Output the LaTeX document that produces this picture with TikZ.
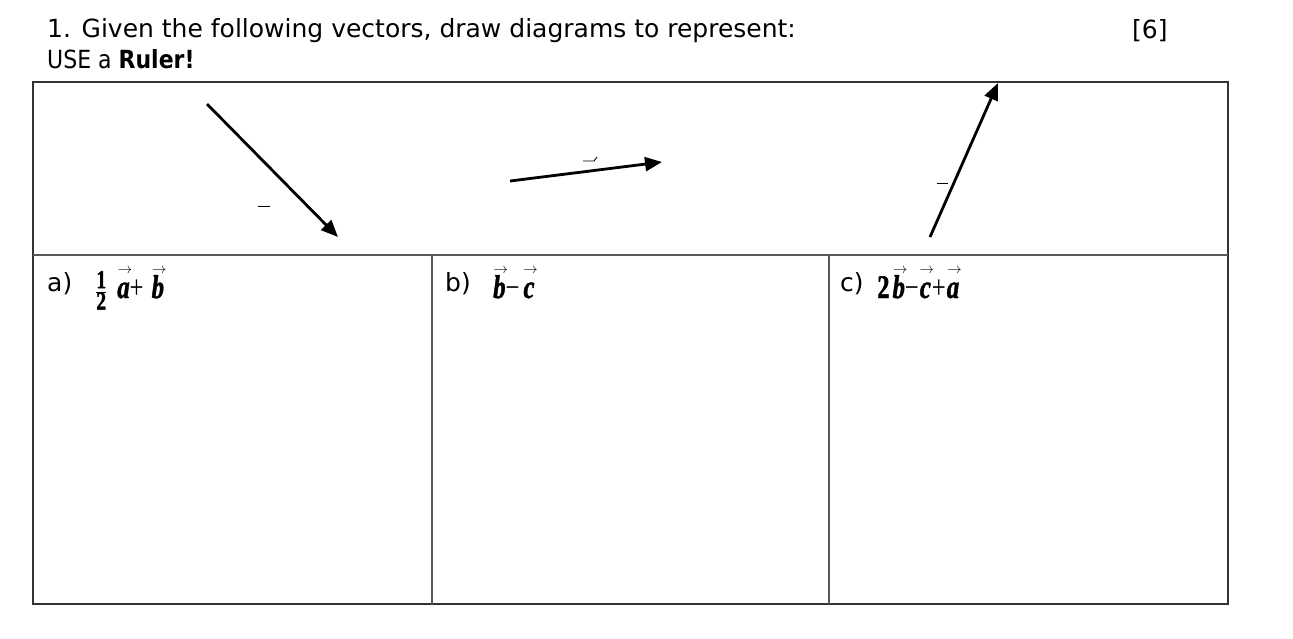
\documentclass[tikz,border=0pt]{standalone}
\usepackage{fontspec}
\usepackage{graphicx}
\setmainfont{DejaVu Sans}
\newfontfamily\tmsr[FakeStretch=0.75]{Liberation Serif}
\newfontfamily\tmsb[FakeStretch=0.75,FakeBold=1.2]{Liberation Serif Bold}
\newfontfamily\tmsbi[FakeStretch=0.75,FakeBold=1.2]{Liberation Serif Bold Italic}
\usetikzlibrary{arrows.meta}
\newcommand\arrowglyph{{\fontsize{15}{15}\selectfont$\rightarrow$}}
\newcommand\vv[1]{{\setbox0\hbox{\tmsbi #1}\hbox to \wd0{\hss\kern3pt\raisebox{25pt}[0pt][0pt]{\arrowglyph}\hss}\kern-\wd0\box0}}
\newcommand\bd[1]{{\tmsb #1}}
\newcommand\sm[1]{\hbox{\fontsize{26}{26}\selectfont\tmsb #1}}
\tikzset{
  frame/.style={draw=black!80, line width=1.6pt},
  sep/.style={draw=black!65, line width=1.6pt},
  vecline/.style={line width=2.8pt, -{Triangle[length=17pt,width=14pt]}},
  tick/.style={line width=0.9pt},
  txt/.style={anchor=base west, inner sep=0pt, font=\fontsize{25}{28}\selectfont},
  mth/.style={anchor=base west, inner sep=0pt, font=\fontsize{33}{35}\selectfont\tmsr}
}
\begin{document}
\begin{tikzpicture}[x=1pt,y=-1pt]
\useasboundingbox (0,0) rectangle (1293,638);
% header
\node[txt] (q) at (47,37) {1. Given the following vectors, draw diagrams to represent:};
\node[txt] (r) at (47,68) {\scalebox{0.88}[1]{USE a \textbf{Ruler!}}};
\node[txt] (m) at (1132,38) {[6]};
% table
\coordinate (tl) at (33,82);
\coordinate (br) at (1228,604);
\draw[frame] (tl) rectangle (br);
\coordinate (hl) at (33,255);
\coordinate (hr) at (1228,255);
\draw[sep] (hl) -- (hr);
\coordinate (v1t) at (432,255);
\coordinate (v1b) at (432,604);
\coordinate (v2t) at (829,255);
\coordinate (v2b) at (829,604);
\draw[sep] (v1t) -- (v1b);
\draw[sep] (v2t) -- (v2b);
% vectors
\coordinate (a0) at (207,104);
\coordinate (a1) at (338,237);
\draw[vecline] (a0) -- (a1);
\coordinate (b0) at (510,181);
\coordinate (b1) at (662,162);
\draw[vecline] (b0) -- (b1);
\coordinate (c0) at (930,237);
\coordinate (c1) at (998,83);
\draw[vecline] (c0) -- (c1);
% small marks
\coordinate (ma0) at (258,206);
\coordinate (ma1) at (270,206);
\draw[tick] (ma0) -- (ma1);
\coordinate (mb0) at (583,161);
\coordinate (mb1) at (594,161);
\coordinate (mb2) at (597,157);
\draw[tick] (mb0) -- (mb1) -- (mb2);
\coordinate (mc0) at (937,183);
\coordinate (mc1) at (948,183);
\draw[tick] (mc0) -- (mc1);
% labels
\node[txt] (la) at (47,291) {a)};
\node[mth] (ea) at (95,298) {$\frac{\sm{1}}{\sm{2}}$\kern10pt\vv{a}+\kern8pt\vv{b}};
\node[txt] (lb) at (445,291) {b)};
\node[mth] (eb) at (493,298) {\vv{b}−\kern4pt\vv{c}};
\node[txt] (lc) at (840,291) {c)};
\node[mth] (ec) at (877,298) {\bd{2}\kern3pt\vv{b}−\kern1pt\vv{c}\kern1pt+\kern1pt\vv{a}};
\end{tikzpicture}
\end{document}
